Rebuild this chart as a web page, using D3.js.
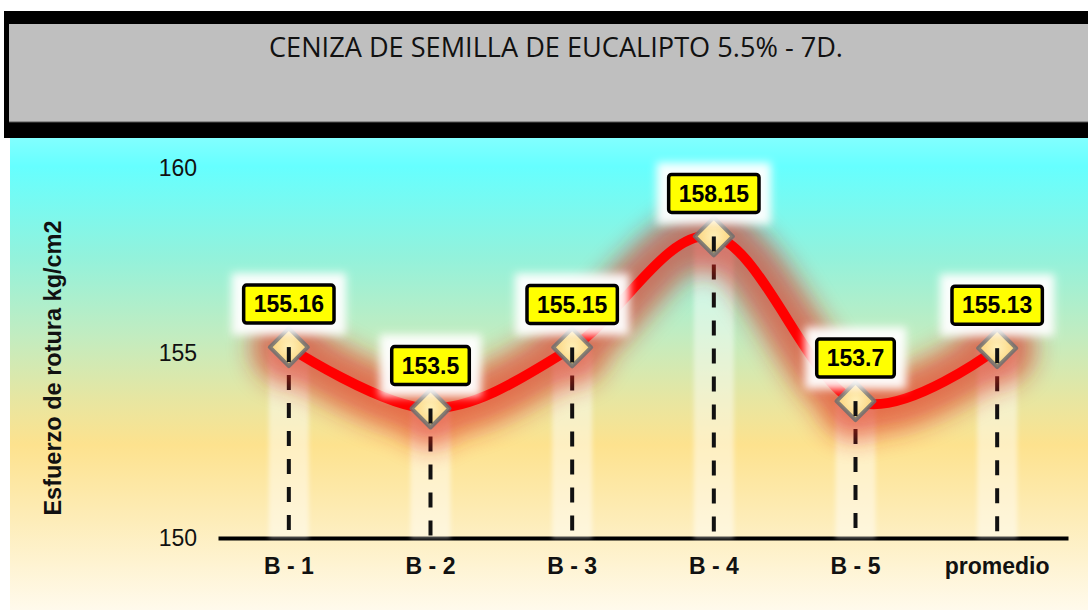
<!DOCTYPE html>
<html>
<head>
<meta charset="utf-8">
<script src="https://cdn.jsdelivr.net/npm/d3@7"></script>
<style>
  body { margin: 0; background: #fff; }
  svg { display: block; }
</style>
</head>
<body>
<svg id="chart" width="1088" height="610"></svg>
<script>
// chart data
let categories = ['B - 1', 'B - 2', 'B - 3', 'B - 4', 'B - 5', 'promedio'];
let values = [155.16, 153.5, 155.15, 158.15, 153.7, 155.13];
let yTicks = [150, 155, 160];
let chartTitle = 'CENIZA DE SEMILLA DE EUCALIPTO 5.5% - 7D.';
let yTitle = 'Esfuerzo de rotura kg/cm2';

let svg = d3.select('#chart');
let defs = svg.append('defs');

// background gradient
let bg = defs.append('linearGradient')
    .attr('id', 'bgGrad')
    .attr('x1', 0).attr('y1', 0).attr('x2', 0).attr('y2', 1);
let stops = [[0, '#82ffff'], [0.06, '#66ffff'], [0.25, '#92f2dc'], [0.42, '#c2ecc0'],
             [0.55, '#e6e6a2'], [0.65, '#fde28e'], [0.8, '#fdecb6'], [1, '#fffaec']];
for (let s of stops) {
  bg.append('stop').attr('offset', s[0]).attr('stop-color', s[1]);
}

let blurBig = defs.append('filter').attr('id', 'blurBig')
    .attr('x', '-20%').attr('y', '-50%').attr('width', '140%').attr('height', '200%');
blurBig.append('feGaussianBlur').attr('stdDeviation', 12);

let blurMid = defs.append('filter').attr('id', 'blurMid')
    .attr('x', '-30%').attr('y', '-30%').attr('width', '160%').attr('height', '160%');
blurMid.append('feGaussianBlur').attr('stdDeviation', 4);

let blurSmall = defs.append('filter').attr('id', 'blurSmall')
    .attr('x', '-30%').attr('y', '-30%').attr('width', '160%').attr('height', '160%');
blurSmall.append('feGaussianBlur').attr('stdDeviation', 2);

let markGrad = defs.append('radialGradient').attr('id', 'markGrad');
markGrad.append('stop').attr('offset', 0).attr('stop-color', '#fff0b8');
markGrad.append('stop').attr('offset', 1).attr('stop-color', '#fbd27a');

// frame + title band
svg.append('rect').attr('x', 4).attr('y', 11).attr('width', 1084).attr('height', 127).attr('fill', '#000');
svg.append('rect').attr('x', 9).attr('y', 24).attr('width', 1079).attr('height', 98).attr('fill', '#bfbfbf');
svg.append('line').attr('x1', 9).attr('x2', 1088).attr('y1', 122).attr('y2', 122)
    .attr('stroke', '#555').attr('stroke-width', 1);
svg.append('rect').attr('x', 10).attr('y', 138).attr('width', 1078).attr('height', 472).attr('fill', 'url(#bgGrad)');

svg.append('text')
    .text(chartTitle)
    .attr('x', 269)
    .attr('y', 57)
    .attr('textLength', 574)
    .attr('lengthAdjust', 'spacingAndGlyphs')
    .attr('font-family', 'Open Sans, sans-serif')
    .attr('font-size', 28)
    .attr('fill', '#111');

// scales
let x = d3.scaleBand().domain(categories).range([218, 1068]);
let y = d3.scaleLinear().domain([150, 160]).range([538, 168]);
let cx = function (d, i) { return x(categories[i]) + x.bandwidth() / 2; };

// y tick labels (no axis line)
svg.append('g')
    .attr('transform', 'translate(197,0)')
    .call(d3.axisLeft(y).tickValues(yTicks).tickSize(0).tickPadding(0))
    .call(g => g.select('.domain').remove())
    .selectAll('text')
    .attr('font-family', 'Liberation Sans, Arial, sans-serif')
    .attr('font-size', 23)
    .attr('fill', '#111');

svg.append('text')
    .text(yTitle)
    .attr('transform', 'translate(61,368) rotate(-90)')
    .attr('text-anchor', 'middle')
    .attr('font-family', 'Liberation Sans, Arial, sans-serif')
    .attr('font-weight', 'bold')
    .attr('font-size', 23.5)
    .attr('fill', '#111');

// x axis
let xAxis = svg.append('g')
    .attr('transform', 'translate(0,538)')
    .call(d3.axisBottom(x).tickSize(0).tickPadding(20).tickSizeOuter(0));
xAxis.select('.domain').attr('stroke', '#000').attr('stroke-width', 4);
xAxis.selectAll('text')
    .attr('font-family', 'Liberation Sans, Arial, sans-serif')
    .attr('font-weight', 'bold')
    .attr('font-size', 23)
    .attr('fill', '#111');

// soft white bands behind the drop lines
svg.append('g').attr('filter', 'url(#blurSmall)')
    .selectAll('line').data(values).enter().append('line')
    .attr('x1', cx).attr('x2', cx)
    .attr('y1', d => y(d)).attr('y2', 538)
    .attr('stroke', '#fff').attr('stroke-opacity', 0.45).attr('stroke-width', 40);

// drop lines
svg.append('g')
    .selectAll('line').data(values).enter().append('line')
    .attr('x1', cx).attr('x2', cx)
    .attr('y1', d => y(d)).attr('y2', 536)
    .attr('stroke', '#111').attr('stroke-width', 4)
    .attr('stroke-dasharray', '15,13');

// line with red glow
let lineGen = d3.line()
    .x(cx)
    .y(d => y(d))
    .curve(d3.curveCardinal.tension(0));

let glow = svg.append('g').attr('filter', 'url(#blurBig)').attr('opacity', 0.6);
glow.append('path').datum(values)
    .attr('d', lineGen)
    .attr('fill', 'none')
    .attr('stroke', '#e02418')
    .attr('stroke-width', 58);
glow.selectAll('circle').data(values).enter().append('circle')
    .attr('cx', cx).attr('cy', d => y(d)).attr('r', 38).attr('fill', '#e02418');

svg.append('path').datum(values)
    .attr('d', lineGen)
    .attr('fill', 'none')
    .attr('stroke', '#ff0000')
    .attr('stroke-width', 10);

// diamond markers
let diamond = function (d, i) {
  let px = cx(d, i), py = y(d), r = 19;
  return 'M' + px + ',' + (py - r) + 'L' + (px + r) + ',' + py + 'L' + px + ',' + (py + r) + 'L' + (px - r) + ',' + py + 'Z';
};
svg.append('g').selectAll('path').data(values).enter().append('path')
    .attr('d', diamond)
    .attr('fill', 'url(#markGrad)')
    .attr('stroke', '#6f6f6f')
    .attr('stroke-opacity', 0.85)
    .attr('stroke-width', 4)
    .attr('stroke-linejoin', 'round');

// drop line segment over the marker
svg.append('g')
    .selectAll('line').data(values).enter().append('line')
    .attr('x1', cx).attr('x2', cx)
    .attr('y1', d => y(d)).attr('y2', d => y(d) + 15)
    .attr('stroke', '#111').attr('stroke-width', 4);

// data labels
let labels = svg.append('g').selectAll('g').data(values).enter().append('g')
    .attr('transform', (d, i) => 'translate(' + cx(d, i) + ',' + (y(d) - 43) + ')');

labels.append('text')
    .text(d => d)
    .attr('text-anchor', 'middle')
    .attr('dy', '0.36em')
    .attr('font-family', 'Liberation Sans, Arial, sans-serif')
    .attr('font-weight', 'bold')
    .attr('font-size', 23)
    .attr('fill', '#000');

labels.each(function () {
  let g = d3.select(this);
  let w = g.select('text').node().getComputedTextLength() + 20;
  g.insert('rect', 'text')
      .attr('x', -w / 2 - 12).attr('y', -31).attr('width', w + 24).attr('height', 62)
      .attr('fill', '#fff').attr('opacity', 0.95)
      .attr('filter', 'url(#blurMid)');
  g.insert('rect', 'text')
      .attr('x', -w / 2).attr('y', -19).attr('width', w).attr('height', 38)
      .attr('rx', 3)
      .attr('fill', '#ffff00')
      .attr('stroke', '#000')
      .attr('stroke-width', 3.5);
});
</script>
</body>
</html>
